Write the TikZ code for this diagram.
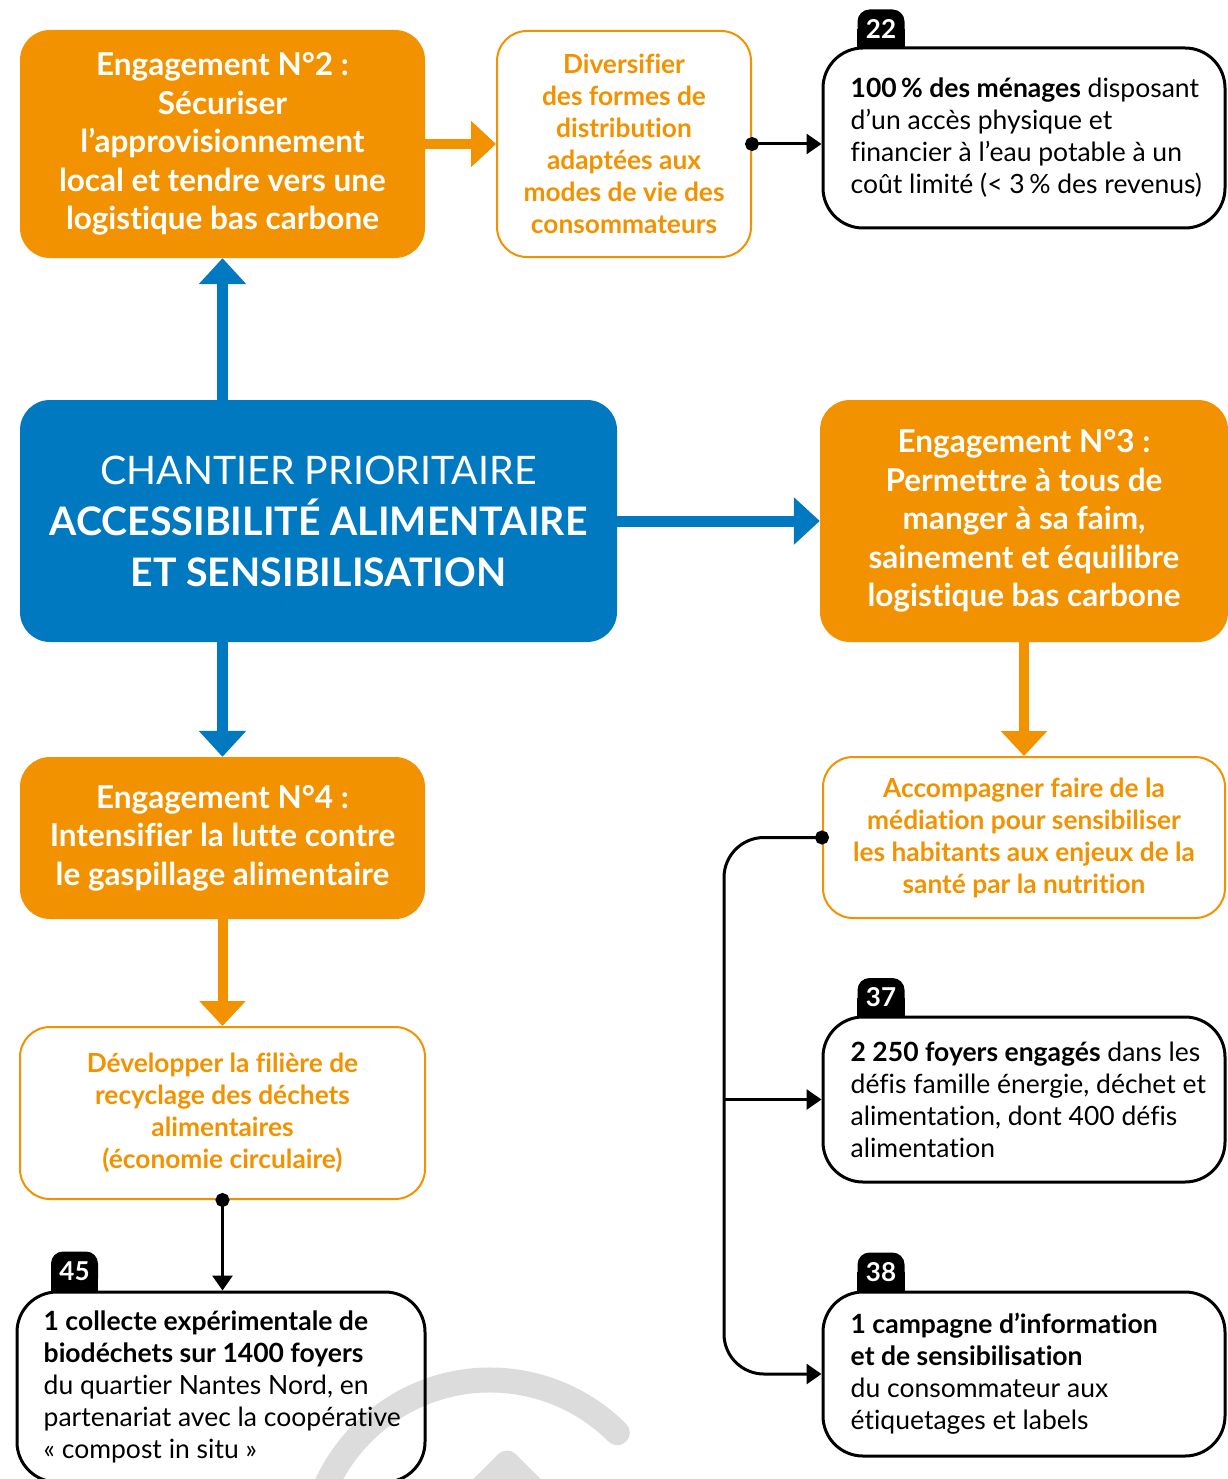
\documentclass[tikz,border=0pt]{standalone}
\usepackage{fontspec}
\setmainfont{Lato}[Ligatures=NoCommon]
\usetikzlibrary{arrows.meta,positioning}
\definecolor{nmorange}{HTML}{F39200}
\definecolor{nmblue}{HTML}{0079C1}
\definecolor{nmgrey}{HTML}{DCDCDC}
\begin{document}
\begin{tikzpicture}[x=1pt, y=-1pt,
	engage/.style={fill=nmorange, text=white, rounded corners=30pt, align=center, inner sep=0pt,
		minimum width=405pt, font=\bfseries\fontsize{31.5}{38.5}\selectfont},
	action/.style={draw=nmorange, line width=2pt, text=nmorange, rounded corners=30pt, align=center,
		inner sep=0pt, font=\bfseries\fontsize{26.3}{32}\selectfont},
	result/.style={draw=black, line width=3pt, rounded corners=40pt, inner sep=0pt, minimum width=402pt},
	result text/.style={anchor=west, align=left, inner sep=0pt, font=\fontsize{26.5}{32}\selectfont},
	badge/.style={fill=black, rounded corners=12pt, minimum width=47pt, minimum height=39pt, inner sep=0pt},
	badge text/.style={text=white, inner sep=0pt, font=\bfseries\fontsize{26}{26}\selectfont},
	blue arrow/.style={draw=nmblue, line width=11pt, -{Triangle[length=26pt,width=46pt]}},
	orange arrow/.style={draw=nmorange, line width=10pt, -{Triangle[length=25pt,width=45pt]}},
	conn/.style={draw=black, line width=3pt, shorten <=-7pt,
		{Circle[length=14pt]}-{Triangle[length=15pt,width=20pt]}},
	branch/.style={draw=black, line width=3pt, -{Triangle[length=15pt,width=20pt]}}]
	\useasboundingbox (0,0) rectangle (1227,1479);
	% grey logo in the lower corner
	\draw[nmgrey, line width=25pt, line cap=round] (490,1560) ++(190:180) arc[start angle=190, end angle=315, radius=180];
	\draw[nmgrey, line width=25pt, line join=round] (472,1498) -- (507,1463) -- (542,1498);
	% chantier and engagements
	\node[fill=nmblue, text=white, rounded corners=30pt, align=center, inner sep=0pt,
		minimum width=597pt, minimum height=242pt, font=\fontsize{39.3}{51}\selectfont]
		(chantier) at (318.5,521) {CHANTIER PRIORITAIRE\\\textbf{ACCESSIBILITÉ ALIMENTAIRE}\\\textbf{ET SENSIBILISATION}};
	\node[engage, minimum height=228pt] (eng2) at (222.5,144)
		{Engagement N°2~:\\Sécuriser\\l’approvisionnement\\local et tendre vers une\\logistique bas carbone};
	\node[engage, minimum width=408pt, minimum height=242pt] (eng3) at (1024,521)
		{Engagement N°3~:\\Permettre à tous de\\manger à sa faim,\\sainement et équilibre\\logistique bas carbone};
	\node[engage, minimum height=162pt] (eng4) at (222.5,838)
		{Engagement N°4~:\\Intensifier la lutte contre\\le gaspillage alimentaire};
	% actions
	\node[action, minimum width=254pt, minimum height=226pt] (div) at (624,144)
		{Diversifier\\des formes de\\distribution\\adaptées aux\\modes de vie des\\consommateurs};
	\node[action, minimum width=402pt, minimum height=161pt] (acc) at (1024,837.5)
		{Accompagner faire de la\\médiation pour sensibiliser\\les habitants aux enjeux de la\\santé par la nutrition};
	\node[action, minimum width=405pt, minimum height=172pt] (dev) at (222.5,1113)
		{Développer la filière de\\recyclage des déchets\\alimentaires\\(économie circulaire)};
	% numbered tabs
	\foreach \n/\x/\y in {22/881/29, 37/881/997.5, 38/881/1272, 45/74.5/1271}{
		\node[badge] (n\n) at (\x,\y) {};
		\fill (n\n.west) rectangle (n\n.south east);
		\node[badge text] (l\n) at (n\n) {\n};
	}
	% numbered results
	\node[result, minimum height=180pt] (b22) at (1024,138) {};
	\node[result text] (t22) at ([xshift=29pt]b22.west)
		{\textbf{100\,\% des ménages} disposant\\d’un accès physique et\\financier à l’eau potable à un\\coût limité (< 3\,\% des revenus)};
	\node[result, minimum height=165pt] (b37) at (1024,1099.5) {};
	\node[result text] (t37) at ([xshift=29pt]b37.west)
		{\textbf{2 250 foyers engagés} dans les\\défis famille énergie, déchet et\\alimentation, dont 400 défis\\alimentation};
	\node[result, minimum height=164pt] (b38) at (1024,1374) {};
	\node[result text] (t38) at ([xshift=29pt]b38.west)
		{\textbf{1 campagne d’information}\\\textbf{et de sensibilisation}\\du consommateur aux\\étiquetages et labels};
	\node[result, minimum width=408pt, minimum height=190pt] (b45) at (221,1387) {};
	\node[result text] (t45) at ([xshift=28pt]b45.west)
		{\textbf{1 collecte expérimentale de}\\\textbf{biodéchets sur 1400 foyers}\\du quartier Nantes Nord, en\\partenariat avec la coopérative\\« compost in situ »};
	% arrows
	\draw[blue arrow] (eng2.south |- chantier.north) -- (eng2.south);
	\draw[blue arrow] (chantier.east) -- (chantier.east -| eng3.west);
	\draw[blue arrow] (eng4.north |- chantier.south) -- (eng4.north);
	\draw[orange arrow] (eng2.east) -- (div.west);
	\draw[orange arrow] (eng3.south) -- (eng3.south |- acc.north);
	\draw[orange arrow] (eng4.south) -- (dev.north);
	\draw[conn] (div.east) -- (div.east -| b22.west);
	\draw[conn] (dev.south) -- (dev.south |- b45.north);
	\coordinate (rail) at (724,1099.5);
	\draw[conn, rounded corners=40pt] (acc.west) -| (rail) |- (b38.west);
	\draw[branch] (rail) -- (b37.west);
\end{tikzpicture}
\end{document}
